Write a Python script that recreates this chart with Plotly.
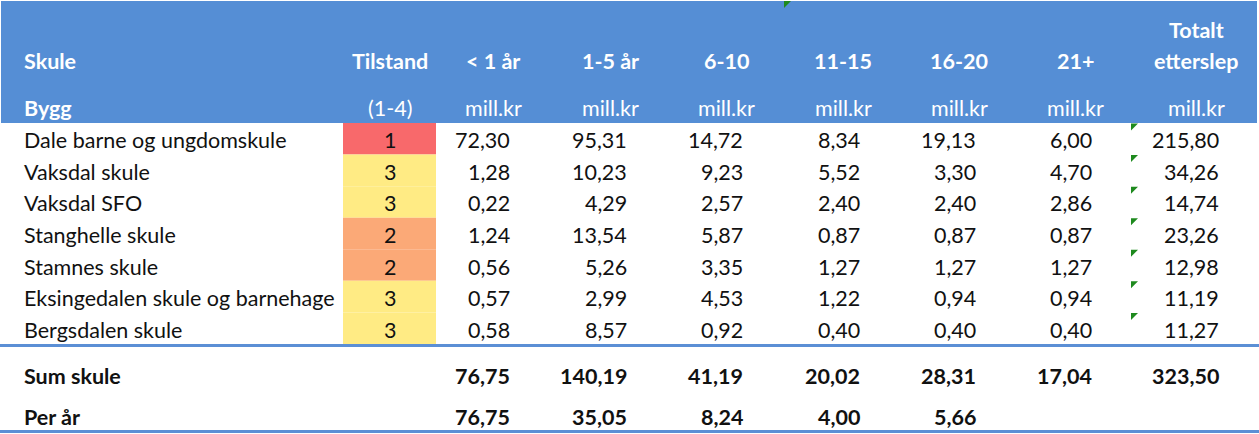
import plotly.graph_objects as go

# ---------------- data ----------------
schools = [
    "Dale barne og ungdomskule",
    "Vaksdal skule",
    "Vaksdal SFO",
    "Stanghelle skule",
    "Stamnes skule",
    "Eksingedalen skule og barnehage",
    "Bergsdalen skule",
]
tilstand = [1, 3, 3, 2, 2, 3, 3]

under_1 = [72.30, 1.28, 0.22, 1.24, 0.56, 0.57, 0.58]
yr_1_5 = [95.31, 10.23, 4.29, 13.54, 5.26, 2.99, 8.57]
yr_6_10 = [14.72, 9.23, 2.57, 5.87, 3.35, 4.53, 0.92]
yr_11_15 = [8.34, 5.52, 2.40, 0.87, 1.27, 1.22, 0.40]
yr_16_20 = [19.13, 3.30, 2.40, 0.87, 1.27, 0.94, 0.40]
yr_21 = [6.00, 4.70, 2.86, 0.87, 1.27, 0.94, 0.40]
totalt = [215.80, 34.26, 14.74, 23.26, 12.98, 11.19, 11.27]

sum_skule = [76.75, 140.19, 41.19, 20.02, 28.31, 17.04, 323.50]
per_aar = [76.75, 35.05, 8.24, 4.00, 5.66]

header_top = ["", "", "", "", "", "", "", "", "Totalt"]
header_mid = ["Skule", "Tilstand", "< 1 år", "1-5 år", "6-10", "11-15", "16-20", "21+", "etterslep"]
header_bot = ["Bygg", "(1-4)", "mill.kr", "mill.kr", "mill.kr", "mill.kr", "mill.kr", "mill.kr", "mill.kr"]
sum_label = "Sum skule"
per_label = "Per år"

# ---------------- layout constants ----------------
W, H = 1259, 434
FONT = "Lato"
FS = 21.5
BLUE = "#558ED5"
LINE_BLUE = "#5B8FD5"
TXT = "#111111"
tilstand_colors = {1: "#F8696B", 2: "#FBA977", 3: "#FFEB84"}

name_x = 22
til_left, til_right = 343, 436
til_center = (til_left + til_right) / 2
num_cols = [under_1, yr_1_5, yr_6_10, yr_11_15, yr_16_20, yr_21, totalt]
col_right = [512, 629, 745, 862, 978, 1094, 1221]
col_center = [493, 610, 726, 843, 959, 1075, 1196]
col_left_edge = [436, 552, 668, 785, 901, 1017, 1133]

header_y = [30, 61, 108]
row_top = 123
row_h = (344 - 123) / len(schools)
sum_y = 376
per_y = 417


def fmt(v):
    return f"{v:.2f}".replace(".", ",")


annotations = []
shapes = []

# header background
shapes.append(dict(type="rect", xref="x", yref="y", x0=1, x1=1257, y0=1, y1=123,
                   fillcolor=BLUE, line=dict(width=0), layer="below"))

# header texts
header_x = [name_x, til_center] + col_center
for i, (t, m, b) in enumerate(zip(header_top, header_mid, header_bot)):
    anchor = "left" if i == 0 else "center"
    if t:
        annotations.append(dict(x=header_x[i], y=header_y[0], text=f"<b>{t}</b>", xanchor=anchor,
                                yanchor="middle", showarrow=False,
                                font=dict(family=FONT, size=FS, color="white")))
    annotations.append(dict(x=header_x[i], y=header_y[1], text=f"<b>{m}</b>", xanchor=anchor,
                            yanchor="middle", showarrow=False,
                            font=dict(family=FONT, size=FS, color="white")))
    btxt = f"<b>{b}</b>" if i == 0 else b
    annotations.append(dict(x=header_x[i], y=header_y[2], text=btxt, xanchor=anchor,
                            yanchor="middle", showarrow=False,
                            font=dict(family=FONT, size=FS, color="white")))

# header error indicator
shapes.append(dict(type="path", xref="x", yref="y",
                   path=f"M {col_left_edge[3]-1},1 L {col_left_edge[3]+6},1 L {col_left_edge[3]-1},8 Z",
                   fillcolor="#1E8A1E", line=dict(width=0)))

# data rows
for r, name in enumerate(schools):
    y0 = row_top + r * row_h
    yc = y0 + row_h / 2 + 1.5
    shapes.append(dict(type="rect", xref="x", yref="y", x0=til_left, x1=til_right,
                       y0=y0, y1=y0 + row_h, fillcolor=tilstand_colors[tilstand[r]],
                       line=dict(width=0), layer="below"))
    annotations.append(dict(x=name_x, y=yc, text=name, xanchor="left", yanchor="middle",
                            showarrow=False, font=dict(family=FONT, size=FS, color=TXT)))
    annotations.append(dict(x=til_center, y=yc, text=str(tilstand[r]), xanchor="center",
                            yanchor="middle", showarrow=False,
                            font=dict(family=FONT, size=FS, color=TXT)))
    for c, col in enumerate(num_cols):
        annotations.append(dict(x=col_right[c], y=yc, text=fmt(col[r]), xanchor="right",
                                yanchor="middle", showarrow=False,
                                font=dict(family=FONT, size=FS, color=TXT)))
    xe = col_left_edge[6] - 2
    shapes.append(dict(type="path", xref="x", yref="y",
                       path=f"M {xe},{y0+0.5} L {xe+7},{y0+0.5} L {xe},{y0+7.5} Z",
                       fillcolor="#1E8A1E", line=dict(width=0)))

# separator lines
shapes.append(dict(type="line", xref="x", yref="y", x0=0, x1=W, y0=345.5, y1=345.5,
                   line=dict(color=LINE_BLUE, width=3)))
shapes.append(dict(type="line", xref="x", yref="y", x0=0, x1=W, y0=431.5, y1=431.5,
                   line=dict(color=LINE_BLUE, width=3)))

# summary rows
annotations.append(dict(x=name_x, y=sum_y, text=f"<b>{sum_label}</b>", xanchor="left",
                        yanchor="middle", showarrow=False,
                        font=dict(family=FONT, size=FS, color=TXT)))
annotations.append(dict(x=name_x, y=per_y, text=f"<b>{per_label}</b>", xanchor="left",
                        yanchor="middle", showarrow=False,
                        font=dict(family=FONT, size=FS, color=TXT)))
for c, v in enumerate(sum_skule):
    annotations.append(dict(x=col_right[c], y=sum_y, text=f"<b>{fmt(v)}</b>", xanchor="right",
                            yanchor="middle", showarrow=False,
                            font=dict(family=FONT, size=FS, color=TXT)))
for c, v in enumerate(per_aar):
    annotations.append(dict(x=col_right[c], y=per_y, text=f"<b>{fmt(v)}</b>", xanchor="right",
                            yanchor="middle", showarrow=False,
                            font=dict(family=FONT, size=FS, color=TXT)))

fig = go.Figure()
fig.add_trace(go.Scatter(x=[0, W], y=[0, H], mode="markers",
                         marker=dict(opacity=0), hoverinfo="skip", showlegend=False))
fig.update_layout(
    width=W, height=H,
    margin=dict(l=0, r=0, t=0, b=0),
    paper_bgcolor="white", plot_bgcolor="white",
    xaxis=dict(range=[0, W], visible=False, fixedrange=True),
    yaxis=dict(range=[H, 0], visible=False, fixedrange=True),
    shapes=shapes, annotations=annotations, showlegend=False,
)
fig.write_html(
    "out.html",
    config={"displayModeBar": False},
    post_script="document.body.style.margin='0px';document.body.style.overflow='hidden';",
)
